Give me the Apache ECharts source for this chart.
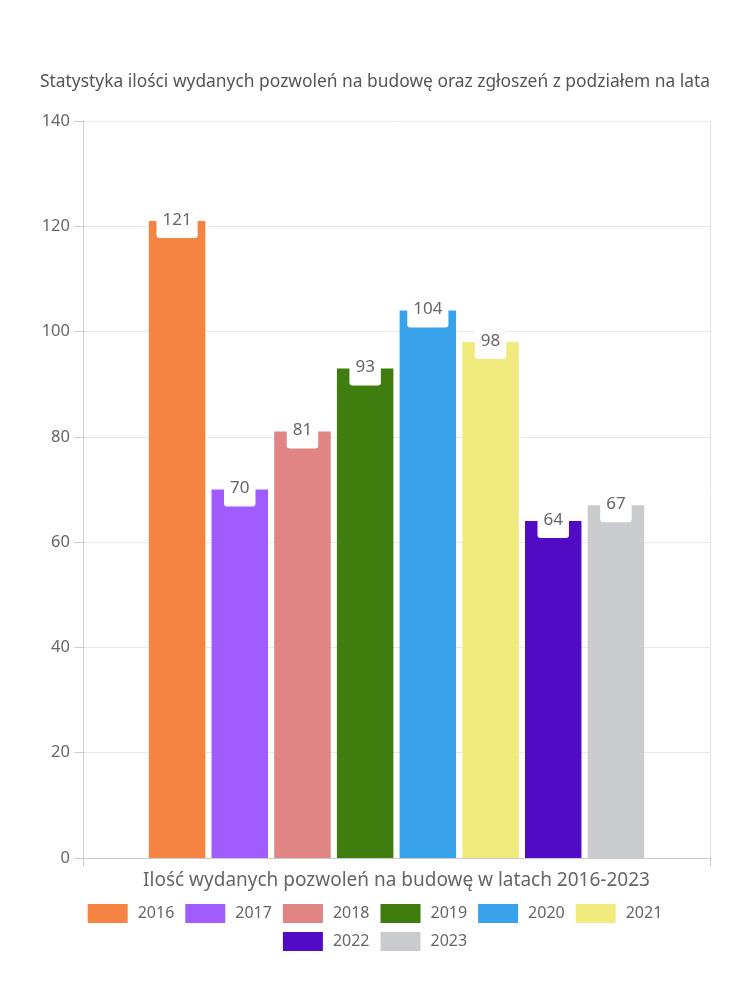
<!DOCTYPE html>
<html><head><meta charset="utf-8">
<script src="https://cdn.jsdelivr.net/npm/echarts@6/dist/echarts.min.js"></script>
<style>html,body{margin:0;padding:0;background:#fff}#c{width:750px;height:1000px}</style>
</head><body><div id="c"></div>
<script>
const titleText = 'Statystyka ilości wydanych pozwoleń na budowę oraz zgłoszeń z podziałem na lata';
const categories = ['Ilość wydanych pozwoleń na budowę w latach 2016-2023'];
const years = ['2016','2017','2018','2019','2020','2021','2022','2023'];
const values = [121, 70, 81, 93, 104, 98, 64, 67];
const colors = ['#F58442','#A05CFF','#E08484','#3E7D0E','#38A3EA','#F0EB7C','#510BC4','#CACBCF'];
const yTicks = {min: 0, max: 140, interval: 20};
const legendRow1 = years.slice(0, 6);
const legendRow2 = years.slice(6);
const FONT = 'Noto Sans';

const series = years.map((y, i) => ({
  name: y,
  type: 'bar',
  data: [values[i]],
  itemStyle: {color: colors[i]},
  barGap: '11%',
  barCategoryGap: '21%',
  label: {
    show: true,
    position: ['50%', 0],
    align: 'center',
    verticalAlign: 'middle',
    offset: [0, -1],
    color: '#666',
    fontFamily: FONT,
    fontSize: 17,
    lineHeight: 20,
    backgroundColor: '#fff',
    borderRadius: 3,
    padding: [8, 6, 8, 6]
  }
}));

const legendBase = {
  itemWidth: 40, itemHeight: 19, itemGap: 11,
  left: 'center',
  textStyle: {color: '#666', fontSize: 16, fontFamily: FONT, padding: [0, 0, 0, 5]},
  icon: 'rect'
};

const chart = echarts.init(document.getElementById('c'), null, {renderer: 'canvas'});
chart.setOption({
  animation: false,
  textStyle: {fontFamily: FONT},
  title: {
    text: titleText, left: 'center', top: 69,
    textStyle: {color: '#555', fontSize: 17.4, fontWeight: 'normal', fontFamily: FONT}
  },
  grid: {left: 83, right: 40, top: 121, bottom: 142},
  legend: [
    Object.assign({data: legendRow1, top: 899}, legendBase),
    Object.assign({data: legendRow2, top: 927}, legendBase)
  ],
  xAxis: {
    type: 'category', data: categories,
    axisLine: {show: true, lineStyle: {color: '#ccc'}},
    axisTick: {show: true, length: 8, lineStyle: {color: '#ccc'}},
    splitLine: {show: true, lineStyle: {color: '#e0e0e0'}},
    axisLabel: {color: '#666', fontSize: 19, margin: 13, fontFamily: FONT}
  },
  yAxis: {
    type: 'value', min: yTicks.min, max: yTicks.max, interval: yTicks.interval,
    axisLine: {show: true, lineStyle: {color: '#ccc'}},
    axisTick: {show: true, length: 9, lineStyle: {color: '#ccc'}},
    axisLabel: {color: '#666', fontSize: 16.5, margin: 13, fontFamily: FONT},
    splitLine: {lineStyle: {color: '#e8e8e8'}}
  },
  series: series
});
</script></body></html>
